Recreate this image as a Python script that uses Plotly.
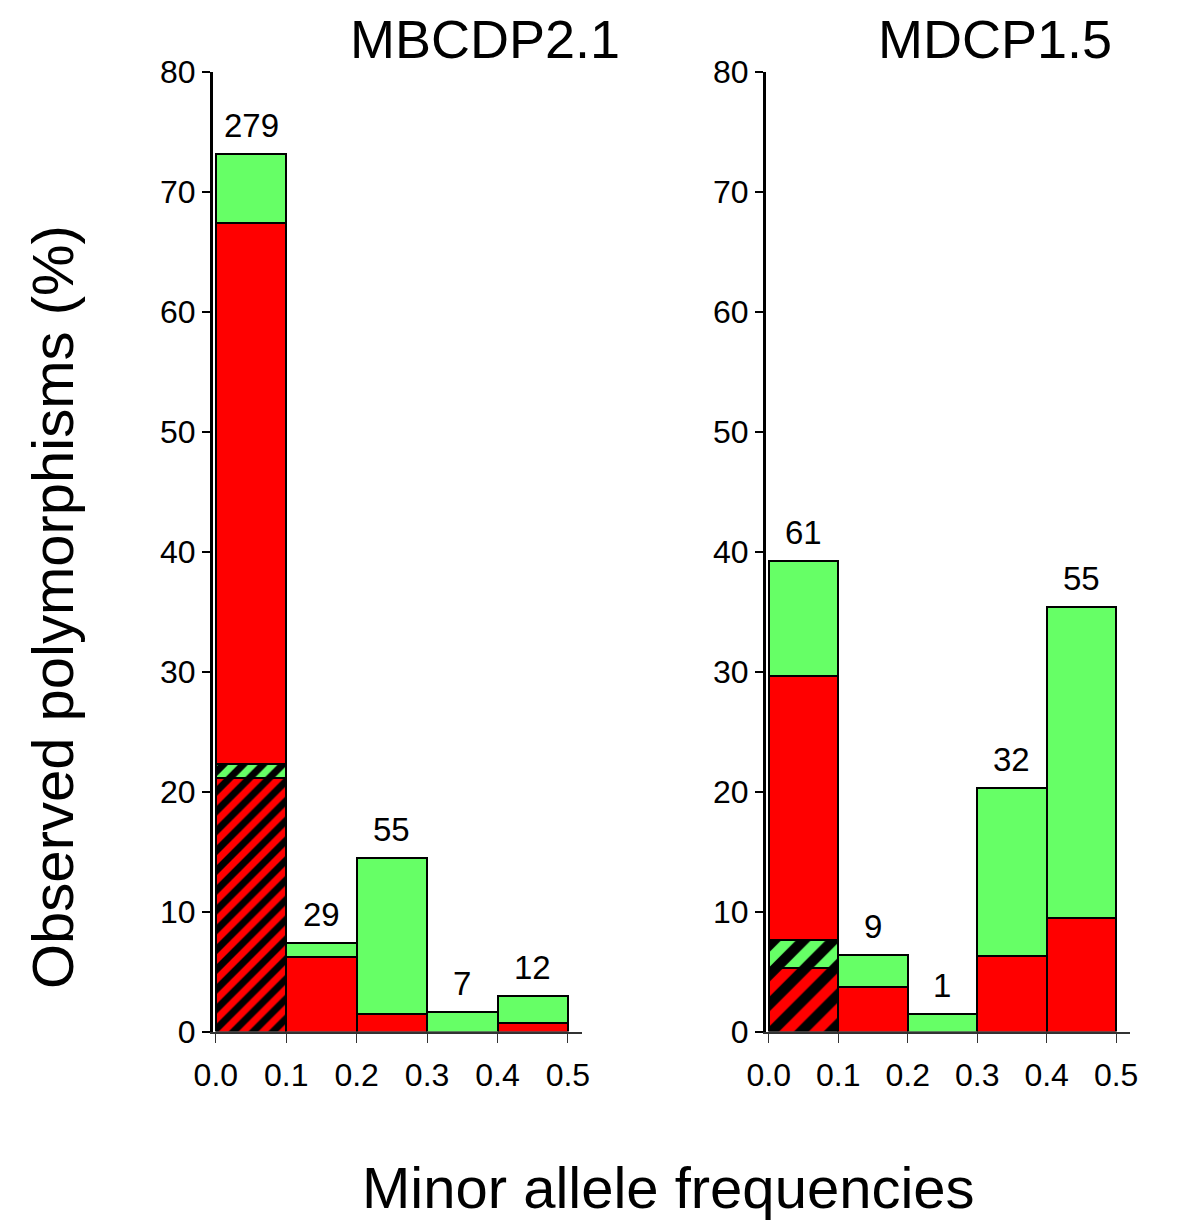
import plotly.graph_objects as go

W, H = 1200, 1227
OX, OY = -8, -8  # page body margin compensation

# ---- data ----
bins = [0.05, 0.15, 0.25, 0.35, 0.45]
tick_vals = [0.0, 0.1, 0.2, 0.3, 0.4, 0.5]
y_ticks = [0, 10, 20, 30, 40, 50, 60, 70, 80]

# MBCDP2.1 (segment heights, bottom to top)
left_hatch_red = [21.1, None, None, None, None]
left_hatch_green = [1.2, None, None, None, None]
left_red = [45.1, 6.2, 1.5, None, 0.75]
left_green = [5.8, 1.2, 13.0, 1.6, 2.25]
left_counts = ["279", "29", "55", "7", "12"]

# MDCP1.5
right_hatch_red = [5.3, None, None, None, None]
right_hatch_green = [2.3, None, None, None, None]
right_red = [22.0, 3.75, None, 6.3, 9.5]
right_green = [9.6, 2.65, 1.5, 14.0, 25.9]
right_counts = ["61", "9", "1", "32", "55"]

panel_titles = ["MBCDP2.1", "MDCP1.5"]
x_title = "Minor allele frequencies"
y_title = "Observed polymorphisms (%)"

RED = "#ff0000"
GREEN = "#66ff66"
FONT = "Liberation Sans, Arial, sans-serif"


def px(x):
    return (x + OX) / W


def py(y):
    return 1 - (y + OY) / H


fig = go.Figure()


def add_panel(xa, ya, hr, hg, r, g, hatch_size):
    line = dict(color="black", width=2)
    fig.add_trace(go.Bar(x=bins, y=hr, width=0.1, xaxis=xa, yaxis=ya,
                         marker=dict(color="black", line=line,
                                     pattern=dict(shape="/", fillmode="replace",
                                                  bgcolor="black", fgcolor=RED,
                                                  size=hatch_size, solidity=0.5)),
                         showlegend=False))
    fig.add_trace(go.Bar(x=bins, y=hg, width=0.1, xaxis=xa, yaxis=ya,
                         marker=dict(color="black", line=line,
                                     pattern=dict(shape="/", fillmode="replace",
                                                  bgcolor="black", fgcolor=GREEN,
                                                  size=hatch_size, solidity=0.5)),
                         showlegend=False))
    fig.add_trace(go.Bar(x=bins, y=r, width=0.1, xaxis=xa, yaxis=ya,
                         marker=dict(color=RED, line=line), showlegend=False))
    fig.add_trace(go.Bar(x=bins, y=g, width=0.1, xaxis=xa, yaxis=ya,
                         marker=dict(color=GREEN, line=line), showlegend=False))


add_panel("x", "y", left_hatch_red, left_hatch_green, left_red, left_green, 14)
add_panel("x2", "y2", right_hatch_red, right_hatch_green, right_red, right_green, 21)

annotations = []


def totals(*series):
    out = []
    for i in range(len(bins)):
        out.append(sum((s[i] or 0) for s in series))
    return out


for xr, yr, cnts, ser in [("x", "y", left_counts, (left_hatch_red, left_hatch_green, left_red, left_green)),
                          ("x2", "y2", right_counts, (right_hatch_red, right_hatch_green, right_red, right_green))]:
    tots = totals(*ser)
    for xv, tv, c in zip(bins, tots, cnts):
        annotations.append(dict(x=xv, y=tv, xref=xr, yref=yr, text=c, showarrow=False,
                                xanchor="center", yanchor="bottom", yshift=8,
                                font=dict(family=FONT, size=33, color="black")))


def paper_text(x, y, text, angle=0, size=58, yanchor="middle"):
    return dict(x=px(x), y=py(y), xref="paper", yref="paper", text=text, showarrow=False,
                xanchor="center", yanchor=yanchor, textangle=angle, borderpad=0,
                font=dict(family=FONT, size=size, color="black"))


annotations.append(dict(paper_text(485, 8, panel_titles[0], size=54, yanchor="top"), y=1))
annotations.append(dict(paper_text(995, 8, panel_titles[1], size=54, yanchor="top"), y=1))
annotations.append(paper_text(668, 1187, x_title))
annotations.append(paper_text(52, 607, y_title, angle=-90))

ydom = [py(1031.5), py(72)]

xcommon = dict(range=[-0.004, 0.52], tickvals=tick_vals, tickformat=".1f",
               ticks="outside", ticklen=10, tickwidth=1, tickcolor="#333",
               showline=True, linecolor="#333", linewidth=1.5, showgrid=False, zeroline=False,
               ticklabelstandoff=4, automargin=False,
               tickfont=dict(family=FONT, size=32, color="black"))
ycommon = dict(range=[0, 80], tickvals=y_ticks, ticks="outside", ticklen=8, tickwidth=2,
               tickcolor="black", showline=True, linecolor="black", linewidth=3,
               showgrid=False, zeroline=False, automargin=False,
               tickfont=dict(family=FONT, size=32, color="black"))

fig.update_layout(
    width=W, height=H,
    margin=dict(l=0, r=0, t=0, b=0, autoexpand=False),
    paper_bgcolor="white", plot_bgcolor="white",
    barmode="stack", bargap=0,
    xaxis=dict(domain=[px(213), px(582)], anchor="y", **xcommon),
    xaxis2=dict(domain=[px(766), px(1130)], anchor="y2", **xcommon),
    yaxis=dict(domain=ydom, anchor="x", **ycommon),
    yaxis2=dict(domain=ydom, anchor="x2", **ycommon),
    annotations=annotations,
    font=dict(family=FONT),
)

fig.write_html("out.html")
